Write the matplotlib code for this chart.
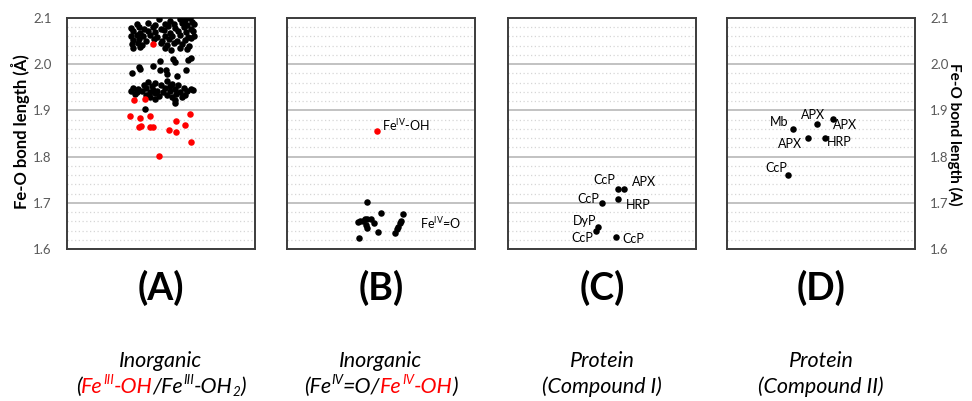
import matplotlib
matplotlib.use('Agg')
import matplotlib.pyplot as plt
from matplotlib.ticker import MultipleLocator, FormatStrFormatter

plt.rcParams['font.family'] = ['Lato', 'DejaVu Sans']
plt.rcParams['mathtext.fontset'] = 'custom'
plt.rcParams['mathtext.rm'] = 'Lato'
plt.rcParams['mathtext.it'] = 'Lato:italic'
plt.rcParams['mathtext.bf'] = 'Lato:bold'

# ---------------- data ----------------
panel_letters = ['(A)', '(B)', '(C)', '(D)']
panel_line1 = ['Inorganic', 'Inorganic', 'Protein', 'Protein']

# Panel A: inorganic Fe(III)-OH2 (black) and Fe(III)-OH (red)
A_black_x = [0.49, 0.55, 0.60, 0.63, 0.655, 0.665,
             0.37, 0.43, 0.47, 0.52, 0.57, 0.61, 0.64, 0.675,
             0.34, 0.385, 0.41, 0.455, 0.50, 0.535, 0.575, 0.62, 0.66,
             0.35, 0.39, 0.43, 0.47, 0.515, 0.55, 0.59, 0.635, 0.67,
             0.34, 0.37, 0.405, 0.44, 0.48, 0.52, 0.56, 0.60, 0.645, 0.675,
             0.35, 0.385, 0.42, 0.465, 0.505, 0.545, 0.585, 0.625, 0.66,
             0.345, 0.375, 0.40, 0.50, 0.53, 0.57, 0.61, 0.65,
             0.35, 0.39, 0.52, 0.555, 0.60, 0.64,
             0.346, 0.382, 0.458, 0.497, 0.497, 0.529, 0.533, 0.586, 0.563, 0.577, 0.631, 0.657, 0.645, 0.39,
             0.43, 0.47, 0.53, 0.56,
             0.41, 0.45, 0.50, 0.55, 0.59,
             0.35, 0.38, 0.42, 0.46, 0.52, 0.575, 0.62, 0.66,
             0.34, 0.37, 0.40, 0.44, 0.48, 0.51, 0.55, 0.60, 0.64, 0.67,
             0.36, 0.42, 0.47, 0.53, 0.58, 0.63,
             0.44, 0.49, 0.56, 0.61,
             0.47, 0.575, 0.575,
             0.417]
A_black_y = [2.097, 2.094, 2.098, 2.096, 2.099, 2.092,
             2.086, 2.089, 2.084, 2.088, 2.086, 2.090, 2.085, 2.087,
             2.079, 2.081, 2.076, 2.080, 2.077, 2.082, 2.078, 2.080, 2.077,
             2.071, 2.068, 2.072, 2.069, 2.073, 2.067, 2.071, 2.069, 2.072,
             2.061, 2.064, 2.060, 2.063, 2.058, 2.062, 2.060, 2.064, 2.059, 2.062,
             2.052, 2.055, 2.050, 2.054, 2.051, 2.055, 2.050, 2.053, 2.056,
             2.043, 2.046, 2.041, 2.045, 2.042, 2.046, 2.043, 2.040,
             2.035, 2.037, 2.034, 2.031, 2.036, 2.033,
             1.982, 1.993, 1.996, 2.007, 1.987, 1.987, 1.978, 1.975, 2.011, 2.005, 1.987, 2.014, 2.009, 1.990,
             1.962, 1.960, 1.963, 1.958,
             1.955, 1.953, 1.956, 1.952, 1.955,
             1.948, 1.946, 1.949, 1.945, 1.948, 1.946, 1.949, 1.947,
             1.942, 1.940, 1.943, 1.939, 1.942, 1.940, 1.943, 1.939, 1.942, 1.944,
             1.936, 1.934, 1.937, 1.933, 1.936, 1.934,
             1.929, 1.931, 1.928, 1.930,
             1.924, 1.922, 1.915,
             1.902]
A_red_x = [0.458, 0.359, 0.417, 0.337, 0.39, 0.444, 0.654, 0.579, 0.625,
           0.382, 0.394, 0.444, 0.458, 0.542, 0.579, 0.657, 0.49]
A_red_y = [2.043, 1.922, 1.924, 1.887, 1.884, 1.888, 1.893, 1.876, 1.869,
           1.863, 1.866, 1.865, 1.865, 1.858, 1.853, 1.831, 1.801]

# Panel B: inorganic Fe(IV)=O (black) and Fe(IV)-OH (red)
B_black_x = [0.424, 0.376, 0.388, 0.403, 0.415, 0.427, 0.445, 0.42, 0.427,
             0.464, 0.482, 0.50, 0.382, 0.574, 0.584, 0.593, 0.601, 0.615, 0.606]
B_black_y = [1.702, 1.659, 1.661, 1.661, 1.664, 1.666, 1.666, 1.652, 1.645,
             1.656, 1.637, 1.679, 1.623, 1.634, 1.643, 1.648, 1.656, 1.676, 1.661]
B_red_x = [0.477]
B_red_y = [1.855]

# Panel C: protein compound I
C_x = [0.587, 0.617, 0.587, 0.498, 0.48, 0.468, 0.574]
C_y = [1.729, 1.729, 1.708, 1.699, 1.648, 1.639, 1.627]
C_labels = ['CcP', 'APX', 'HRP', 'CcP', 'DyP', 'CcP', 'CcP']

# Panel D: protein compound II
D_x = [0.353, 0.477, 0.566, 0.429, 0.523, 0.324]
D_y = [1.860, 1.870, 1.881, 1.840, 1.840, 1.760]
D_labels = ['Mb', 'APX', 'APX', 'APX', 'HRP', 'CcP']

# ---------------- layout / style ----------------
RED = '#FF0000'
W_PX, H_PX = 972, 401
fig = plt.figure(figsize=(9.72, 4.01), dpi=100)

lefts = [67, 287, 508, 727]
axes = []
for i, l in enumerate(lefts):
    ax = fig.add_axes([l / W_PX, 1 - 249 / H_PX, 188 / W_PX, 231 / H_PX])
    ax.set_xlim(0, 1)
    ax.set_ylim(1.6, 2.1)
    ax.yaxis.set_major_locator(MultipleLocator(0.1))
    ax.yaxis.set_minor_locator(MultipleLocator(0.02))
    ax.yaxis.set_major_formatter(FormatStrFormatter('%.1f'))
    ax.grid(which='major', axis='y', color='#BDBDBD', lw=1.3)
    ax.grid(which='minor', axis='y', color='#D6D6D6', lw=0.9, ls=(0, (1, 2)))
    ax.set_axisbelow(True)
    ax.set_xticks([])
    ax.tick_params(which='both', length=0, labelsize=9.5, labelcolor='#595959')
    for sp in ax.spines.values():
        sp.set_color('#3C3C3C')
        sp.set_linewidth(1.4)
    if i == 0:
        ax.tick_params(axis='y', pad=11)
    elif i == 3:
        ax.yaxis.tick_right()
        ax.tick_params(axis='y', which='both', length=0, pad=11)
    else:
        ax.tick_params(axis='y', labelleft=False)
    axes.append(ax)

ms = 22
axA, axB, axC, axD = axes
axA.scatter(A_black_x, A_black_y, s=ms, color='black', lw=0, zorder=3)
axA.scatter(A_red_x, A_red_y, s=ms, color=RED, lw=0, zorder=4)

axB.scatter(B_black_x, B_black_y, s=ms, color='black', lw=0, zorder=3)
axB.scatter(B_red_x, B_red_y, s=ms, color=RED, lw=0, zorder=4)
axB.annotate(r'Fe$^{\mathrm{IV}}$-OH', (B_red_x[0], B_red_y[0]), xytext=(5, 6),
             textcoords='offset pixels', ha='left', va='center', fontsize=9)
axB.text(0.707, 1.656, r'Fe$^{\mathrm{IV}}$=O', ha='left', va='center', fontsize=9)

axC.scatter(C_x, C_y, s=ms, color='black', lw=0, zorder=3)
C_off = [(-3, 9, 'right'), (8, 7, 'left'), (8, -6, 'left'), (-2, 4, 'right'),
         (-2, 6, 'right'), (-3, -7, 'right'), (6, -2, 'left')]
for x, y, lab, (dx, dy, ha) in zip(C_x, C_y, C_labels, C_off):
    axC.annotate(lab, (x, y), xytext=(dx, dy), textcoords='offset pixels',
                 ha=ha, va='center', fontsize=9)

axD.scatter(D_x, D_y, s=ms, color='black', lw=0, zorder=3)
D_off = [(-5, 7, 'right'), (-4, 9, 'center'), (0, -6, 'left'), (-6, -6, 'right'),
         (2, -4, 'left'), (-1, 7, 'right')]
for x, y, lab, (dx, dy, ha) in zip(D_x, D_y, D_labels, D_off):
    axD.annotate(lab, (x, y), xytext=(dx, dy), textcoords='offset pixels',
                 ha=ha, va='center', fontsize=9)

# axis labels
fig.text(20 / W_PX, 1 - 132 / H_PX, 'Fe-O bond length (Å)', rotation=90, ha='center', va='center',
         fontsize=12, fontweight='bold')
fig.text(955 / W_PX, 1 - 134 / H_PX, 'Fe-O bond length (A)', rotation=270, ha='center', va='center',
         fontsize=11, fontweight='bold')

centers = [l + 94 for l in lefts]
for c, letter, l1 in zip(centers, panel_letters, panel_line1):
    fig.text(c / W_PX, 1 - 288 / H_PX, letter, ha='center', va='center',
             fontsize=27, fontweight='bold')
    fig.text(c / W_PX, 1 - 367 / H_PX, l1, ha='center', va='baseline',
             fontsize=15.5, style='italic')

renderer = fig.canvas.get_renderer()


def rich(xc_px, base_px, pieces, size):
    objs = []
    for s, col, kind in pieces:
        fs = size * 0.62 if kind != 'n' else size
        t = fig.text(0, 0, s, color=col, fontsize=fs, style='italic',
                     ha='left', va='baseline')
        w = t.get_window_extent(renderer).width
        objs.append((t, w, kind))
    total = sum(o[1] for o in objs)
    x = xc_px - total / 2
    for t, w, kind in objs:
        if kind == 'sup':
            dy = 0.40 * size * 100 / 72
        elif kind == 'sub':
            dy = -0.12 * size * 100 / 72
        else:
            dy = 0
        t.set_position((x / W_PX, (base_px + dy) / H_PX))
        x += w


line2_pieces = [
    [('(', 'black', 'n'), ('Fe', RED, 'n'), ('III', RED, 'sup'), ('-OH', RED, 'n'),
     ('/Fe', 'black', 'n'), ('III', 'black', 'sup'), ('-OH', 'black', 'n'),
     ('2', 'black', 'sub'), (')', 'black', 'n')],
    [('(Fe', 'black', 'n'), ('IV', 'black', 'sup'), ('=O/', 'black', 'n'),
     ('Fe', RED, 'n'), ('IV', RED, 'sup'), ('-OH', RED, 'n'), (')', 'black', 'n')],
    [('(Compound I)', 'black', 'n')],
    [('(Compound II)', 'black', 'n')],
]
for c, pcs in zip(centers, line2_pieces):
    rich(c, H_PX - 393, pcs, 15.5)

fig.savefig('out.png', dpi=100)
